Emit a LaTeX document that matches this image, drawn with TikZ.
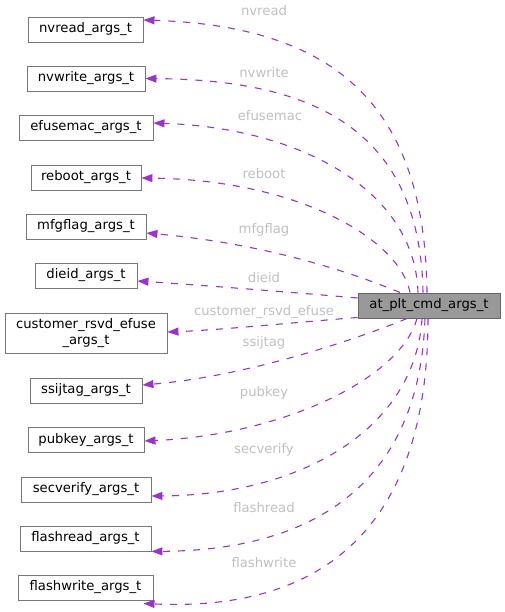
\documentclass[tikz,border=0pt]{standalone}
\usepackage{fontspec}
\setmainfont{DejaVu Sans}
\usetikzlibrary{arrows.meta,calc}
\definecolor{boxgray}{HTML}{777777}
\definecolor{maingray}{HTML}{666666}
\definecolor{mainfill}{HTML}{999999}
\definecolor{edgecol}{HTML}{9A32CD}
\definecolor{lblcol}{HTML}{C0C0C0}
\tikzset{
  cls/.style={draw=boxgray, fill=white, line width=0.9pt, minimum height=25, inner sep=0pt,
    font=\fontsize{13.2}{15.5}\selectfont, align=center},
  mainbox/.style={cls, draw=maingray, fill=mainfill},
  rel/.style={draw=edgecol, line width=1.1pt, dash pattern=on 7pt off 8pt,
    -{Triangle[length=11pt,width=8pt]}},
  lbl/.style={text=lblcol, inner sep=0pt, font=\fontsize{13.2}{15.5}\selectfont}
}
\begin{document}
\begin{tikzpicture}[x=1pt,y=-1pt]
\useasboundingbox (0,0) rectangle (505,612);

\node[mainbox, minimum width=142] (main) at (429,305.5) {at\_plt\_cmd\_args\_t};

\node[cls, minimum width=115] (nvread) at (85.5,29.5) {nvread\_args\_t};
\node[cls, minimum width=118] (nvwrite) at (86,78.5) {nvwrite\_args\_t};
\node[cls, minimum width=134] (efusemac) at (86,127.5) {efusemac\_args\_t};
\node[cls, minimum width=110] (reboot) at (86,177.5) {reboot\_args\_t};
\node[cls, minimum width=120] (mfgflag) at (86,226.5) {mfgflag\_args\_t};
\node[cls, minimum width=102] (dieid) at (86,275.5) {dieid\_args\_t};
\node[cls, minimum width=162, minimum height=40] (customer) at (86,333) {customer\_rsvd\_efuse\\\_args\_t};
\node[cls, minimum width=112] (ssijtag) at (86,390.5) {ssijtag\_args\_t};
\node[cls, minimum width=116] (pubkey) at (86,440) {pubkey\_args\_t};
\node[cls, minimum width=130] (secverify) at (86,489.5) {secverify\_args\_t};
\node[cls, minimum width=131] (flashread) at (85.5,538.5) {flashread\_args\_t};
\node[cls, minimum width=135] (flashwrite) at (85.5,587.5) {flashwrite\_args\_t};

% edges
\draw[rel] ($(main.north)+(-2,0)$) .. controls (425,100) and (330,26) .. ($(nvread.east)+(0,-9.5)$);
\draw[rel] ($(main.north)+(-6,0)$) .. controls (420,120) and (300,80) .. (nvwrite.east);
\draw[rel] ($(main.north)+(-11,0)$) .. controls (415,190) and (300,128) .. ($(efusemac.east)+(0,-4.5)$);
\draw[rel] ($(main.north)+(-19,0)$) .. controls (400,240) and (300,180) .. ($(reboot.east)+(0,0.5)$);
\draw[rel] ($(main.north)+(-29,0)$) .. controls (370,280) and (280,245) .. ($(mfgflag.east)+(0,6.5)$);
\draw[rel] ($(main.west)+(0,-7.5)$) .. controls (300,293) and (200,285) .. ($(dieid.east)+(0,5.5)$);
\draw[rel] ($(main.south west)+(0,-1)$) .. controls (300,322) and (220,330) .. ($(customer.east)+(0,-1)$);
\draw[rel] ($(main.south)+(-22,0)$) .. controls (380,330) and (260,375) .. ($(ssijtag.east)+(0,-5.5)$);
\draw[rel] ($(main.south)+(-12,0)$) .. controls (400,380) and (280,435) .. ($(pubkey.east)+(0,1)$);
\draw[rel] ($(main.south)+(-7,0)$) .. controls (415,430) and (300,495) .. ($(secverify.east)+(0,6.5)$);
\draw[rel] ($(main.south)+(-4,0)$) .. controls (420,470) and (330,550) .. (flashread.south east);
\draw[rel] ($(main.south)+(-1,0)$) .. controls (428,520) and (330,612) .. ($(flashwrite.south east)+(-10,3)$);

% labels
\node[lbl] (l1) at (264,11) {nvread};
\node[lbl] (l2) at (264,73) {nvwrite};
\node[lbl] (l3) at (270,116) {efusemac};
\node[lbl] (l4) at (264,174) {reboot};
\node[lbl] (l5) at (264,230) {mfgflag};
\node[lbl] (l6) at (264,278) {dieid};
\node[lbl] (l7) at (264,312) {customer\_rsvd\_efuse};
\node[lbl] (l8) at (264,343) {ssijtag};
\node[lbl] (l9) at (264,393) {pubkey};
\node[lbl] (l10) at (264,450) {secverify};
\node[lbl] (l11) at (264,508) {flashread};
\node[lbl] (l12) at (264,563) {flashwrite};
\end{tikzpicture}
\end{document}
